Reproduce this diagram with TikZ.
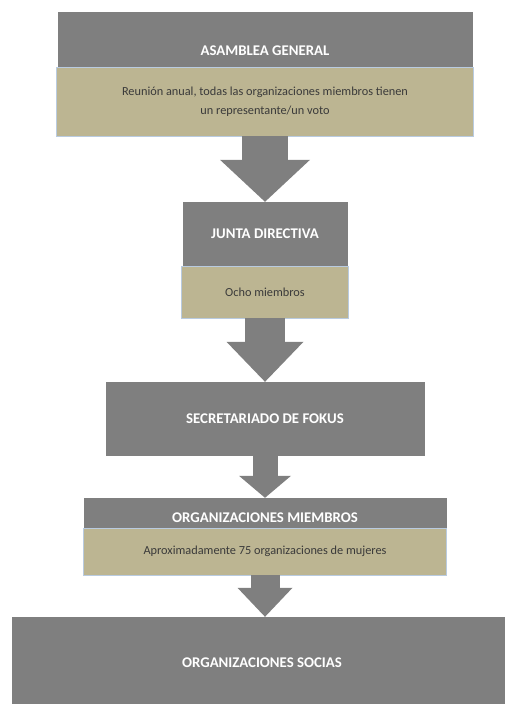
\documentclass[tikz,border=0pt]{standalone}
\usepackage{fontspec}
\setmainfont{Carlito}
\usetikzlibrary{arrows.meta}
\definecolor{grigio}{HTML}{7F7F7F}
\definecolor{sabbia}{HTML}{BCB592}
\definecolor{bordo}{HTML}{B9CBE0}
\definecolor{testo}{HTML}{3A3A3A}

\begin{document}
\begin{tikzpicture}[x=1pt, y=-1pt,
		titolo/.style={fill=grigio, text=white, inner sep=0pt,
			font=\fontsize{14.8}{17}\selectfont\bfseries},
		nota/.style={fill=sabbia, draw=bordo, line width=0.8pt, text=testo,
			inner sep=0pt, align=center, font=\fontsize{12.3}{19.5}\selectfont},
		freccia/.style n args={3}{draw=grigio, line width=#1,
			-{Triangle[width=#2 0 0, length=#3 0 0, line width=0pt 0 0]}}]
			\useasboundingbox (0, 0) rectangle (504, 704);
			% assemblea generale
			\node[titolo, minimum width=415pt, minimum height=78pt] (asamblea) at (265, 51) {ASAMBLEA GENERAL};
			\node[nota, minimum width=417pt, minimum height=69pt] (reunion) at (265, 101.5)
				{Reunión anual, todas las organizaciones miembros tienen\\un representante/un voto};
			% junta directiva
			\node[titolo, minimum width=165pt, minimum height=64pt] (junta) at (265, 234) {JUNTA DIRECTIVA};
			\node[nota, minimum width=167pt, minimum height=52pt] (ocho) at (265, 292) {Ocho miembros};
			% secretariado
			\node[titolo, minimum width=319pt, minimum height=74pt] (secretariado) at (265, 419) {SECRETARIADO DE FOKUS};
			% organizzazioni membri
			\node[titolo, minimum width=363pt, minimum height=40pt] (miembros) at (265, 518) {ORGANIZACIONES MIEMBROS};
			\node[nota, minimum width=363pt, minimum height=47pt] (aprox) at (265, 551.5)
				{Aproximadamente 75 organizaciones de mujeres};
			% organizzazioni socie
			\node[titolo, minimum width=500pt, minimum height=92pt] (socias) at (262, 663) {ORGANIZACIONES SOCIAS};
			% frecce
			\draw[freccia={46pt}{90pt}{42pt}] (reunion.south) -- (junta.north);
			\draw[freccia={40pt}{77pt}{40pt}] (ocho.south) -- (secretariado.north);
			\draw[freccia={25pt}{52pt}{22pt}] (secretariado.south) -- (miembros.north);
			\draw[freccia={29pt}{55pt}{29pt}] (aprox.south) -- (aprox.south |- socias.north);
		\end{tikzpicture}
\end{document}
